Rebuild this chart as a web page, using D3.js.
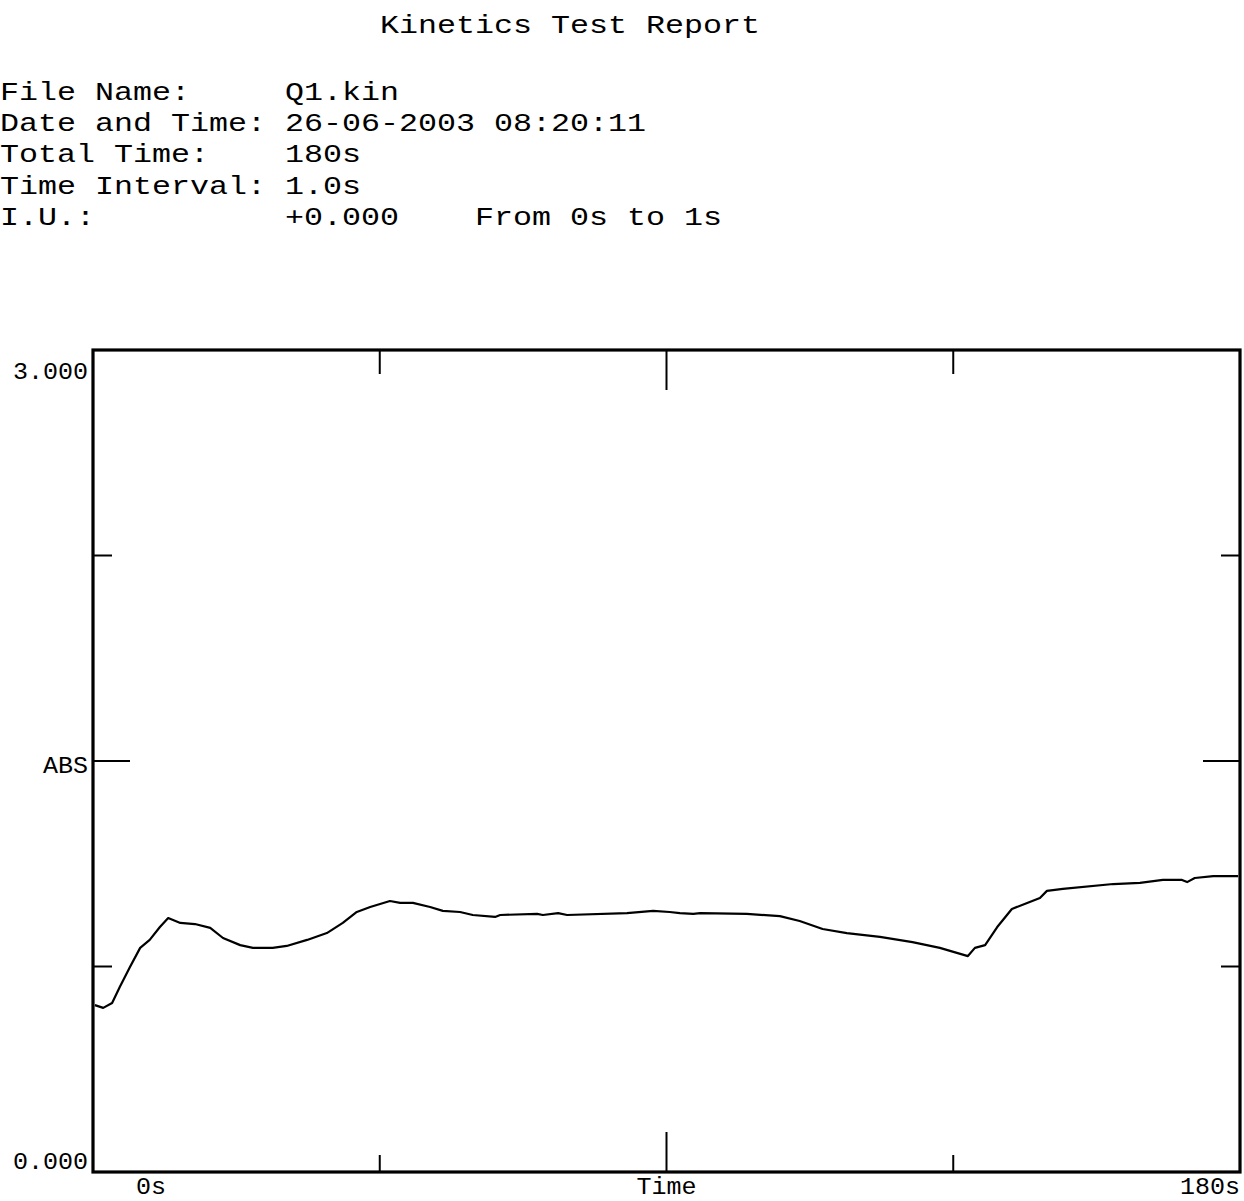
<!DOCTYPE html>
<html>
<head>
<meta charset="utf-8">
<script src="https://cdn.jsdelivr.net/npm/d3@7"></script>
<style>
  html, body { margin: 0; padding: 0; background: #fff; }
  svg { display: block; }
  text { font-family: "Liberation Mono", "Courier New", monospace; fill: #000; white-space: pre; }
</style>
</head>
<body>
<svg id="chart" width="1244" height="1201"></svg>
<script>
// ---- data ----
const title = "Kinetics Test Report";
const headerLines = [
  "File Name:     Q1.kin",
  "Date and Time: 26-06-2003 08:20:11",
  "Total Time:    180s",
  "Time Interval: 1.0s",
  "I.U.:          +0.000    From 0s to 1s"
];
const timeDomain = [0, 180];
const absDomain = [0, 3];
const yLabelTop = "3.000";
const yLabelBottom = "0.000";
const yAxisTitle = "ABS";
const xLabelStart = "0s";
const xLabelEnd = "180s";
const xAxisTitle = "Time";
const xTicks = [45, 90, 135];
const yTicks = [0.75, 1.5, 2.25];

const times = [0.3, 1.6, 3.0, 4.2, 5.8, 7.4, 8.9, 10.5, 11.8, 13.7, 16.0, 18.4, 20.4, 23.1, 25.1, 28.2,
  30.4, 33.6, 36.7, 39.2, 41.4, 43.5, 46.6, 48.2, 50.2, 52.9, 54.9, 57.6, 59.6, 63.1, 63.9, 69.7,
  70.6, 73.0, 74.4, 83.8, 87.9, 90.5, 92.1, 94.2, 95.3, 102.6, 107.8, 110.9, 114.5, 118.3, 123.5,
  128.6, 132.9, 137.3, 138.4, 140.0, 141.9, 144.2, 146.6, 148.6, 149.7, 152.2, 160.1, 164.3, 167.9,
  170.9, 171.7, 172.9, 175.8, 179.7];
const absValues = [0.609, 0.599, 0.617, 0.675, 0.748, 0.818, 0.847, 0.894, 0.927, 0.909, 0.905, 0.891,
  0.854, 0.828, 0.818, 0.818, 0.825, 0.847, 0.872, 0.909, 0.949, 0.967, 0.989, 0.982, 0.982, 0.967,
  0.953, 0.949, 0.938, 0.931, 0.938, 0.942, 0.938, 0.945, 0.938, 0.945, 0.953, 0.949, 0.945, 0.942,
  0.945, 0.942, 0.934, 0.916, 0.887, 0.872, 0.858, 0.839, 0.818, 0.788, 0.818, 0.828, 0.894, 0.960,
  0.982, 1.000, 1.026, 1.033, 1.051, 1.055, 1.066, 1.066, 1.058, 1.073, 1.080, 1.080];

// ---- layout ----
const svg = d3.select("#chart");
const pLeft = 93, pRight = 1240, pTop = 350, pBottom = 1172;
const x = d3.scaleLinear().domain(timeDomain).range([pLeft, pRight]);
const y = d3.scaleLinear().domain(absDomain).range([pBottom, pTop]);

const hdrChar = 19;   // px per monospace cell in the header
const hdrSize = "26px";

// header text
svg.append("text").attr("x", 380).attr("y", 33)
  .attr("textLength", title.length * hdrChar).attr("lengthAdjust", "spacingAndGlyphs")
  .style("font-size", hdrSize).text(title);
svg.selectAll("text.hdr").data(headerLines).enter().append("text")
  .attr("class", "hdr")
  .attr("x", 0)
  .attr("y", (d, i) => 100 + i * 31.2)
  .attr("textLength", d => d.length * hdrChar).attr("lengthAdjust", "spacingAndGlyphs")
  .style("font-size", hdrSize)
  .text(d => d);

// frame
svg.append("rect")
  .attr("x", pLeft).attr("y", pTop)
  .attr("width", pRight - pLeft).attr("height", pBottom - pTop)
  .attr("fill", "none").attr("stroke", "#000").attr("stroke-width", 3.2);

// ticks (top and bottom, middle one longer)
const g = svg.append("g").attr("stroke", "#000").attr("stroke-width", 2);
xTicks.forEach(t => {
  const mid = t === 90;
  g.append("line").attr("x1", x(t)).attr("x2", x(t)).attr("y1", pTop).attr("y2", pTop + (mid ? 40 : 24));
  g.append("line").attr("x1", x(t)).attr("x2", x(t)).attr("y1", pBottom).attr("y2", pBottom - (mid ? 40 : 17));
});
yTicks.forEach(v => {
  const len = v === 1.5 ? 37 : 19;
  g.append("line").attr("x1", pLeft).attr("x2", pLeft + len).attr("y1", y(v)).attr("y2", y(v));
  g.append("line").attr("x1", pRight).attr("x2", pRight - len).attr("y1", y(v)).attr("y2", y(v));
});

// axis labels
const labChar = 15;
const lab = (txt, xx, yy, anchor) => svg.append("text")
  .attr("x", xx).attr("y", yy).attr("text-anchor", anchor)
  .attr("textLength", txt.length * labChar).attr("lengthAdjust", "spacingAndGlyphs")
  .style("font-size", "23px").text(txt);
lab(yLabelTop, 88, y(absDomain[1]) + 29, "end");
lab(yLabelBottom, 88, y(absDomain[0]) - 3, "end");
lab(yAxisTitle, 88, y(1.5) + 12, "end");
lab(xLabelStart, x(0) + 58, 1194, "middle");
lab(xAxisTitle, x(90), 1194, "middle");
lab(xLabelEnd, x(180), 1194, "end");

// curve
const data = times.map((t, i) => ({ t, v: absValues[i] }));
const line = d3.line().x(d => x(d.t)).y(d => y(d.v)).curve(d3.curveLinear);
svg.append("path").datum(data)
  .attr("d", line)
  .attr("fill", "none").attr("stroke", "#000").attr("stroke-width", 2.2)
  .attr("stroke-linejoin", "round");
</script>
</body>
</html>
